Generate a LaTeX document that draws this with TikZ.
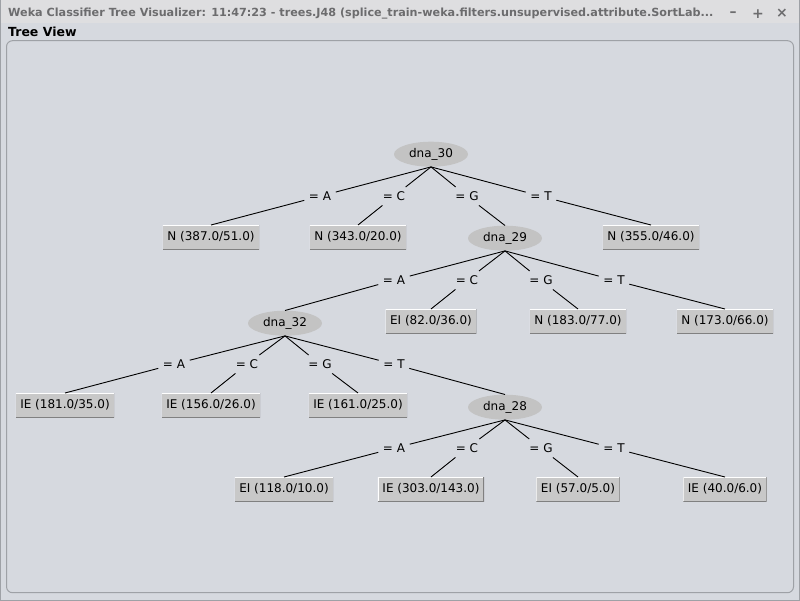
\documentclass[tikz,border=0pt]{standalone}
\usepackage{fontspec}
\setmainfont{DejaVu Sans}
\usepackage{xcolor}
\usetikzlibrary{shapes.geometric}

\definecolor{winbg}{RGB}{214,217,223}
\definecolor{titlebg}{RGB}{222,222,224}
\definecolor{titlefg}{RGB}{108,108,110}
\definecolor{panelline}{RGB}{158,161,166}
\definecolor{inner}{RGB}{195,195,195}
\definecolor{leaffill}{RGB}{200,200,200}
\definecolor{bevel}{RGB}{128,128,128}

\tikzset{
  split/.style={ellipse, fill=inner, minimum width=74pt, minimum height=25pt, inner sep=0pt, font=\fontsize{12}{14}\selectfont},
  leaf/.style={rectangle, fill=leaffill, minimum height=24pt, inner xsep=4.5pt, inner ysep=0pt, font=\fontsize{12}{14}\selectfont,
    path picture={
      \draw[white, line width=1.2pt] (path picture bounding box.south west) -- (path picture bounding box.north west) -- (path picture bounding box.north east);
      \draw[bevel, line width=1.2pt] (path picture bounding box.north east) -- (path picture bounding box.south east) -- (path picture bounding box.south west);}},
  branch/.style={inner sep=4.5pt, font=\fontsize{12}{14}\selectfont},
  edge/.style={line width=0.9pt},
  winbtn/.style={text=titlefg, inner sep=0pt, font=\bfseries\fontsize{14}{14}\selectfont}
}

\begin{document}
\begin{tikzpicture}[x=1pt,y=-1pt]
			% window
			\fill[winbg] (0,0) rectangle (800,600);
			\fill[titlebg] (0,0) rectangle (800,23);
			\draw[panelline] (0.5,0) -- (0.5,599.5) -- (799.5,599.5) -- (799.5,0);
			\node[anchor=west, text=titlefg, font=\bfseries\fontsize{11.2}{14}\selectfont, inner sep=0pt] (title) at (8,13)
				{Weka Classifier Tree Visualizer: 11:47:23 - trees.J48 (splice\_train-weka.filters.unsupervised.attribute.SortLab...};
			\node[winbtn] (minbtn) at (733,14){–};
			\node[winbtn] (maxbtn) at (758,14){+};
			\node[winbtn] (closebtn) at (782,13){×};
			\node[anchor=west, font=\bfseries\fontsize{12.5}{14}\selectfont, inner sep=0pt] (view) at (8,32){Tree View};
			\draw[panelline, line width=1pt, rounded corners=6pt] (6.5,40.5) rectangle (793.5,592.5);
			% tree
			\node[split] (d30) at (431,154){dna\_30};
			\node[leaf] (n1) at (211,237){N (387.0/51.0)};
			\node[leaf] (n2) at (358,237){N (343.0/20.0)};
			\node[split] (d29) at (505,238){dna\_29};
			\node[leaf] (n3) at (651,237){N (355.0/46.0)};
			\node[split] (d32) at (285,323){dna\_32};
			\node[leaf] (ei1) at (431,321){EI (82.0/36.0)};
			\node[leaf] (n4) at (578,321){N (183.0/77.0)};
			\node[leaf] (n5) at (725,321){N (173.0/66.0)};
			\node[leaf] (ie1) at (65,405){IE (181.0/35.0)};
			\node[leaf] (ie2) at (211,405){IE (156.0/26.0)};
			\node[leaf] (ie3) at (358,405){IE (161.0/25.0)};
			\node[split] (d28) at (505,407){dna\_28};
			\node[leaf] (ei2) at (284,489){EI (118.0/10.0)};
			\node[leaf] (ie4) at (431,489){IE (303.0/143.0)};
			\node[leaf] (ei3) at (578,489){EI (57.0/5.0)};
			\node[leaf] (ie5) at (725,489){IE (40.0/6.0)};
			% branch labels
			\node[branch] (b30a) at (320,196){= A};
			\node[branch] (b30c) at (394,196){= C};
			\node[branch] (b30g) at (467,196){= G};
			\node[branch] (b30t) at (541,196){= T};
			\node[branch] (b29a) at (394,280){= A};
			\node[branch] (b29c) at (467,280){= C};
			\node[branch] (b29g) at (541,280){= G};
			\node[branch] (b29t) at (614,280){= T};
			\node[branch] (b32a) at (174,364){= A};
			\node[branch] (b32c) at (247,364){= C};
			\node[branch] (b32g) at (320,364){= G};
			\node[branch] (b32t) at (394,364){= T};
			\node[branch] (b28a) at (394,448){= A};
			\node[branch] (b28c) at (467,448){= C};
			\node[branch] (b28g) at (541,448){= G};
			\node[branch] (b28t) at (614,448){= T};
			% edges
			\draw[edge] (d30.south) -- (b30a) -- (n1.north);
			\draw[edge] (d30.south) -- (b30c) -- (n2.north);
			\draw[edge] (d30.south) -- (b30g) -- (d29.north);
			\draw[edge] (d30.south) -- (b30t) -- (n3.north);
			\draw[edge] (d29.south) -- (b29a) -- (d32.north);
			\draw[edge] (d29.south) -- (b29c) -- (ei1.north);
			\draw[edge] (d29.south) -- (b29g) -- (n4.north);
			\draw[edge] (d29.south) -- (b29t) -- (n5.north);
			\draw[edge] (d32.south) -- (b32a) -- (ie1.north);
			\draw[edge] (d32.south) -- (b32c) -- (ie2.north);
			\draw[edge] (d32.south) -- (b32g) -- (ie3.north);
			\draw[edge] (d32.south) -- (b32t) -- (d28.north);
			\draw[edge] (d28.south) -- (b28a) -- (ei2.north);
			\draw[edge] (d28.south) -- (b28c) -- (ie4.north);
			\draw[edge] (d28.south) -- (b28g) -- (ei3.north);
			\draw[edge] (d28.south) -- (b28t) -- (ie5.north);
		\end{tikzpicture}
\end{document}
